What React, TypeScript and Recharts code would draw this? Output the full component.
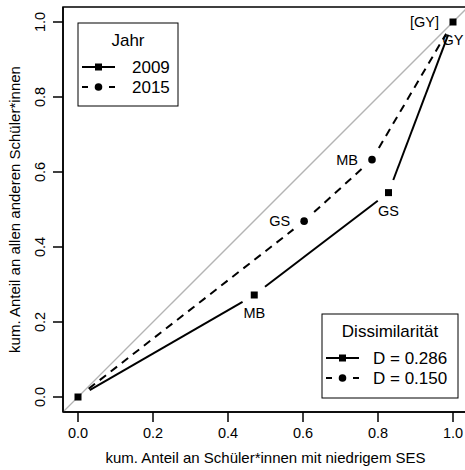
import React from "react";
import { ComposedChart, Line, XAxis, YAxis, ReferenceLine, ReferenceArea, LabelList } from "recharts";

// Lorenz-artige Kurven: kumulierte Anteile je Schulform
const x2009 = [0, 0.47, 0.828, 1];
const y2009 = [0, 0.272, 0.545, 1];
const labels2009 = ["", "MB", "GS", "GY"];
const labelPos2009 = ["", "below", "below", "below"];

const x2015 = [0, 0.603, 0.784, 1];
const y2015 = [0, 0.469, 0.633, 1];
const labels2015 = ["", "GS", "MB", "[GY]"];
const labelPos2015 = ["", "left", "left", "left"];

const axisTicks = [0, 0.2, 0.4, 0.6, 0.8, 1];
const domain: [number, number] = [-0.04, 1.04];

const years = ["2009", "2015"];
const dissimilarity = ["D = 0.286", "D = 0.150"];

const rows2009 = x2009.map((x, i) => ({ x, y: y2009[i], label: labels2009[i] }));
const rows2015 = x2015.map((x, i) => ({ x, y: y2015[i], label: labels2015[i] }));

const FONT = "'Liberation Sans', Arial, sans-serif";
const GAP = 13.5;
const DASH = "8 6";

const seen: Record<string, { x: number; y: number }[]> = {};

function makeDot(series: string, marker: "square" | "circle", dashed: boolean) {
  return (props: any) => {
    const { cx, cy, index } = props;
    if (!seen[series]) seen[series] = [];
    seen[series][index] = { x: cx, y: cy };
    const prev = index > 0 ? (props.points ? props.points[index - 1] : seen[series][index - 1]) : null;
    let seg = null;
    if (prev) {
      const dx = cx - prev.x;
      const dy = cy - prev.y;
      const len = Math.hypot(dx, dy);
      if (len > 2 * GAP) {
        const ux = dx / len;
        const uy = dy / len;
        seg = (
          <line
            x1={prev.x + ux * GAP}
            y1={prev.y + uy * GAP}
            x2={cx - ux * GAP}
            y2={cy - uy * GAP}
            stroke="#000"
            strokeWidth={2}
            strokeDasharray={dashed ? DASH : undefined}
          />
        );
      }
    }
    // 2015 sitzt an den Endpunkten unter den Quadraten von 2009
    const hidden = marker === "circle" && (index === 0 || index === x2015.length - 1);
    return (
      <g key={`${series}-dot-${index}`}>
        {seg}
        {hidden ? null : marker === "square" ? (
          <rect x={cx - 3.5} y={cy - 3.5} width={7} height={7} fill="#000" />
        ) : (
          <circle cx={cx} cy={cy} r={3.8} fill="#000" />
        )}
      </g>
    );
  };
}

function makeLabel(positions: string[]) {
  return (props: any) => {
    const { x, y, index, value } = props;
    if (!value) return null;
    const pos = positions[index];
    if (pos === "left") {
      return (
        <text x={x - 14} y={y + 5} textAnchor="end" fontSize={14.5} fontFamily={FONT} fill="#000">
          {value}
        </text>
      );
    }
    return (
      <text x={x} y={y + 23} textAnchor="middle" fontSize={14.5} fontFamily={FONT} fill="#000">
        {value}
      </text>
    );
  };
}

const XTick = (props: any) => {
  const { x, y, payload } = props;
  return (
    <text x={x} y={y + 16} textAnchor="middle" fontSize={14.5} fontFamily={FONT} fill="#000">
      {payload.value.toFixed(1)}
    </text>
  );
};

const YTick = (props: any) => {
  const { x, y, payload } = props;
  return (
    <text
      x={x}
      y={y}
      transform={`rotate(-90, ${x}, ${y})`}
      textAnchor="middle"
      fontSize={14.5}
      fontFamily={FONT}
      fill="#000"
    >
      {payload.value.toFixed(1)}
    </text>
  );
};

function LegendSample({ x, y, dashed, marker }: { x: number; y: number; dashed: boolean; marker: "square" | "circle" }) {
  return (
    <g>
      {dashed ? (
        <>
          <line x1={x} y1={y} x2={x + 6} y2={y} stroke="#000" strokeWidth={2} />
          <line x1={x + 27} y1={y} x2={x + 33} y2={y} stroke="#000" strokeWidth={2} />
        </>
      ) : (
        <line x1={x} y1={y} x2={x + 33} y2={y} stroke="#000" strokeWidth={2} />
      )}
      {marker === "square" ? (
        <rect x={x + 16.5 - 3.5} y={y - 3.5} width={7} height={7} fill="#000" />
      ) : (
        <circle cx={x + 16.5} cy={y} r={3.8} fill="#000" />
      )}
    </g>
  );
}

function LegendBox({ x, y, w, h, title, items, textX }: { x: number; y: number; w: number; h: number; title: string; items: string[]; textX: number }) {
  return (
    <g fontFamily={FONT} fontSize={17} fill="#000">
      <rect x={x} y={y} width={w} height={h} fill="#fff" stroke="#000" strokeWidth={1} />
      <text x={x + w / 2} y={y + 23} textAnchor="middle">
        {title}
      </text>
      {items.map((t, i) => (
        <g key={t}>
          <LegendSample x={x + 4} y={y + 44 + i * 20} dashed={i === 1} marker={i === 0 ? "square" : "circle"} />
          <text x={textX} y={y + 50 + i * 20}>
            {t}
          </text>
        </g>
      ))}
    </g>
  );
}

export default function App() {
  return (
    <div style={{ position: "absolute", left: 0, top: 0, width: 465, height: 470, overflow: "hidden", background: "#fff" }}>
      <ComposedChart width={470} height={470} margin={{ top: 7, right: 2, bottom: 0, left: 0 }}>
        <XAxis
          type="number"
          dataKey="x"
          domain={domain}
          ticks={axisTicks}
          height={58}
          tickSize={10}
          tickMargin={0}
          tickLine={{ stroke: "#000", strokeWidth: 1.5 }}
          axisLine={{ stroke: "#000", strokeWidth: 1.5 }}
          tick={<XTick />}
          allowDataOverflow
          label={{
            content: (p: any) => {
              const vb = p.viewBox || { x: 63, y: 412, width: 405 };
              return (
                <text x={vb.x + vb.width / 2} y={vb.y + 51} textAnchor="middle" fontSize={15} fontFamily={FONT} fill="#000">
                  kum. Anteil an Schüler*innen mit niedrigem SES
                </text>
              );
            },
          }}
        />
        <YAxis
          type="number"
          dataKey="y"
          domain={domain}
          ticks={axisTicks}
          width={63}
          tickSize={10}
          tickMargin={8}
          tickLine={{ stroke: "#000", strokeWidth: 1.5 }}
          axisLine={{ stroke: "#000", strokeWidth: 1.5 }}
          tick={<YTick />}
          allowDataOverflow
          label={{
            content: (p: any) => {
              const vb = p.viewBox || { x: 0, y: 7, height: 405 };
              const cy = vb.y + vb.height / 2;
              return (
                <text
                  x={20}
                  y={cy}
                  transform={`rotate(-90, 20, ${cy})`}
                  textAnchor="middle"
                  fontSize={15}
                  fontFamily={FONT}
                  fill="#000"
                >
                  kum. Anteil an allen anderen Schüler*innen
                </text>
              );
            },
          }}
        />
        <ReferenceArea x1={domain[0]} x2={domain[1]} y1={domain[0]} y2={domain[1]} fill="none" stroke="#000" strokeWidth={1.5} />
        <ReferenceLine
          segment={[
            { x: domain[0], y: domain[0] },
            { x: domain[1], y: domain[1] },
          ]}
          stroke="#b4b4b4"
          strokeWidth={1.3}
        />
        <Line
          data={rows2015}
          dataKey="y"
          stroke="none"
          isAnimationActive={false}
          dot={makeDot("2015", "circle", true)}
          activeDot={false}
        >
          <LabelList dataKey="label" content={makeLabel(labelPos2015)} />
        </Line>
        <Line
          data={rows2009}
          dataKey="y"
          stroke="none"
          isAnimationActive={false}
          dot={makeDot("2009", "square", false)}
          activeDot={false}
        >
          <LabelList dataKey="label" content={makeLabel(labelPos2009)} />
        </Line>
      </ComposedChart>
      <svg width={465} height={470} style={{ position: "absolute", left: 0, top: 0, pointerEvents: "none" }}>
        <LegendBox x={78} y={23} w={100} h={83} title="Jahr" items={years} textX={132} />
        <LegendBox x={322} y={314} w={136} h={84} title="Dissimilarität" items={dissimilarity} textX={373} />
      </svg>
    </div>
  );
}
